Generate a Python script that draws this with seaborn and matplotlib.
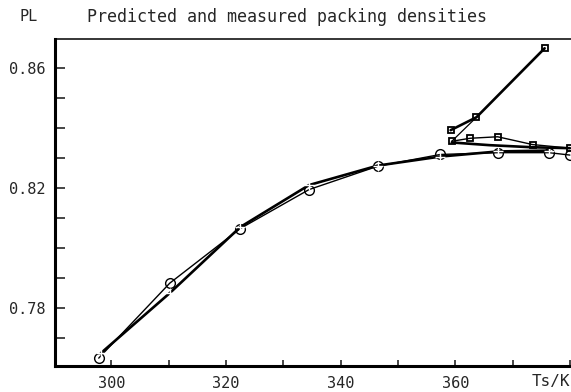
import matplotlib
matplotlib.use("Agg")
import matplotlib.pyplot as plt
import seaborn as sns
import pandas as pd
from matplotlib.ticker import MultipleLocator

sns.set_style("white")
plt.rcParams['font.family'] = ['DejaVu Sans Mono', 'DejaVu Sans']

# measured (circles)
meas_T = [297.8, 310.2, 322.5, 334.5, 346.5, 357.4, 367.4, 376.4, 380.0]
meas_PL = [0.7633, 0.7883, 0.8065, 0.8195, 0.8273, 0.8312, 0.8318, 0.8318, 0.8310]
# predicted (plus)
pred_T = [298.2, 310.2, 322.5, 334.5, 346.5, 357.4, 367.4, 376.4]
pred_PL = [0.7650, 0.7850, 0.8070, 0.8210, 0.8275, 0.8305, 0.8322, 0.8325]
# steep branch (squares)
steep_T = [359.2, 363.7, 375.6]
steep_PL = [0.8393, 0.8436, 0.8666]
# thin branch joining the steep one
thin_T = [359.4, 363.7]
thin_PL = [0.8356, 0.8436]
# flat branch (squares)
flat_T = [359.4, 362.6, 367.4, 373.5, 380.0]
flat_PL = [0.8356, 0.8366, 0.8371, 0.8345, 0.8333]
# thick branch ending in arrow
arrow_T = [359.4, 366.0, 373.5, 380.0]
arrow_PL = [0.8352, 0.8343, 0.8336, 0.8333]

xticks = [300, 320, 340, 360]
yticks = [0.78, 0.82, 0.86]

fig = plt.figure(figsize=(5.71, 3.92), dpi=100)
ax = fig.add_axes([0.0963, 0.0663, 0.9037, 0.834])

def draw(T, P, **kw):
    df = pd.DataFrame({"T": T, "P": P})
    sns.lineplot(data=df, x="T", y="P", sort=False, estimator=None, ax=ax,
                 color="black", clip_on=True, **kw)

draw(meas_T, meas_PL, lw=1.0, marker="o", ms=7, mfc="none", mec="black", mew=1.0)
draw(pred_T, pred_PL, lw=1.9, marker="+", ms=7, mew=1.0)
draw(steep_T, steep_PL, lw=1.9, marker="s", ms=5, mfc="none", mec="black", mew=1.3)
draw(thin_T, thin_PL, lw=0.9)
draw(flat_T, flat_PL, lw=1.0, marker="s", ms=5, mfc="none", mec="black", mew=1.3)
draw(arrow_T, arrow_PL, lw=1.9)

ax.set_xlim(290.17, 380.2)
ax.set_ylim(0.76067, 0.86967)

ax.xaxis.set_minor_locator(MultipleLocator(10))
ax.yaxis.set_minor_locator(MultipleLocator(0.01))
ax.set_xticks(xticks)
ax.set_xticklabels([str(t) for t in xticks])
ax.set_yticks(yticks)
ax.set_yticklabels([f"{t:.2f}" for t in yticks])

ax.tick_params(axis="x", which="both", direction="in", length=4.5, width=1.2,
               labelsize=11, pad=7, bottom=True, top=False)
ax.tick_params(axis="y", which="both", direction="in", length=7, width=1.2,
               labelsize=11, pad=7, left=True, right=False)

ax.set_xlabel("")
ax.set_ylabel("")
for s in ["left", "bottom"]:
    ax.spines[s].set_linewidth(2.2)
    ax.spines[s].set_color("black")
ax.spines["top"].set_linewidth(1.1)
ax.spines["top"].set_color("black")
ax.spines["right"].set_visible(False)

fig.text(0.035, 0.957, "PL", fontsize=11, ha="left", va="center")
fig.text(0.502, 0.957, "Predicted and measured packing densities",
         fontsize=12, ha="center", va="center")
fig.text(0.998, 0.027, "Ts/K", fontsize=11.5, ha="right", va="center")

fig.savefig("out.png", dpi=100)
